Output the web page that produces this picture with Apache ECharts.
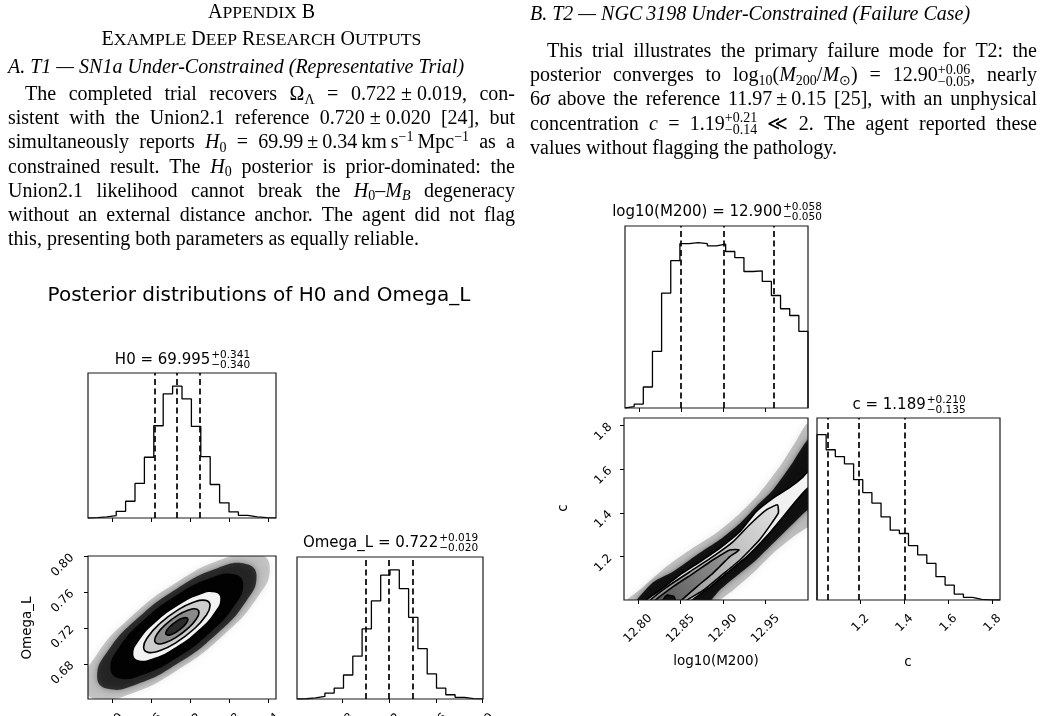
<!DOCTYPE html>
<html><head><meta charset="utf-8">
<script src="https://cdn.jsdelivr.net/npm/echarts@6/dist/echarts.min.js"></script>
<style>html,body{margin:0;padding:0;background:#fff}#main{width:1042px;height:716px}</style>
</head><body><div id="main"></div>
<script>
// ================= DATA =================
// Left figure: H0 / Omega_L
const h0Range = [68.631, 71.518];
const omRange = [0.641, 0.8005];
const h0Counts = [3, 8, 18, 51, 127, 262, 461, 700, 941, 1000, 903, 695, 466, 254, 115, 46, 20, 8, 3, 1];
const omCounts = [2, 8, 20, 46, 84, 186, 332, 543, 760, 959, 1000, 855, 633, 390, 194, 84, 33, 13, 3, 1];
const h0Quantiles = [69.655, 69.995, 70.336];
const omQuantiles = [0.702, 0.722, 0.741];
const h0Ticks = [69.0, 69.6, 70.2, 70.8, 71.4];
const h0TickLabels = ['69.0', '69.6', '70.2', '70.8', '71.4'];
const omTicks = [0.68, 0.72, 0.76, 0.80];
const omTickLabels = ['0.68', '0.72', '0.76', '0.80'];
// contour levels (0.5, 1, 1.5, 2 sigma) in (H0, Omega_L)
const lc20 = [[70.675,0.7532],[70.584,0.7607],[70.335,0.7579],[69.995,0.7454],[69.655,0.7267],[69.406,0.7067],[69.315,0.6908],[69.406,0.6833],[69.655,0.6861],[69.995,0.6986],[70.335,0.7173],[70.584,0.7373]];
const lc15 = [[70.505,0.7454],[70.437,0.7510],[70.250,0.7489],[69.995,0.7396],[69.740,0.7255],[69.553,0.7105],[69.485,0.6986],[69.553,0.6930],[69.740,0.6951],[69.995,0.7045],[70.250,0.7185],[70.437,0.7335]];
const lc10 = [[70.335,0.7376],[70.289,0.7414],[70.165,0.7399],[69.995,0.7337],[69.825,0.7243],[69.701,0.7143],[69.655,0.7064],[69.701,0.7026],[69.825,0.7041],[69.995,0.7103],[70.165,0.7197],[70.289,0.7297]];
const lc05 = [[70.165,0.7298],[70.142,0.7317],[70.080,0.7310],[69.995,0.7279],[69.910,0.7232],[69.848,0.7182],[69.825,0.7142],[69.848,0.7123],[69.910,0.7130],[69.995,0.7161],[70.080,0.7208],[70.142,0.7258]];
// sample cloud extents
const lCloud30 = [[71.015,0.7688],[70.878,0.7801],[70.505,0.7758],[69.995,0.7571],[69.485,0.7290],[69.112,0.6990],[68.975,0.6752],[69.112,0.6639],[69.485,0.6682],[69.995,0.6869],[70.505,0.7150],[70.878,0.7450]];
const lCloud36 = [[71.219,0.7782],[71.055,0.7917],[70.607,0.7866],[69.995,0.7641],[69.383,0.7304],[68.935,0.6944],[68.771,0.6658],[68.935,0.6523],[69.383,0.6574],[69.995,0.6799],[70.607,0.7136],[71.055,0.7496]];
const lCloud42 = [[71.423,0.7875],[71.232,0.8033],[70.709,0.7973],[69.995,0.7711],[69.281,0.7318],[68.758,0.6898],[68.567,0.6565],[68.758,0.6407],[69.281,0.6467],[69.995,0.6729],[70.709,0.7122],[71.232,0.7542]];

// Right figure: log10(M200) / c
const mRange = [12.7835, 13.0];
const cRange = [1.002, 1.834];
const mCounts = [8, 24, 127, 342, 694, 891, 994, 1000, 994, 980, 990, 946, 909, 825, 829, 765, 680, 600, 559, 463];
const cCounts = [1000, 908, 867, 823, 727, 649, 586, 502, 422, 402, 329, 273, 221, 141, 90, 36, 16, 4, 1, 0];
const mQuantiles = [12.850, 12.900, 12.958];
const cQuantiles = [1.054, 1.189, 1.399];
const mTicks = [12.80, 12.85, 12.90, 12.95];
const mTickLabels = ['12.80', '12.85', '12.90', '12.95'];
const cTicks = [1.2, 1.4, 1.6, 1.8];
const cTickLabels = ['1.2', '1.4', '1.6', '1.8'];
const rc20 = [[12.809,0.99],[12.809,1.0],[12.826,1.047],[12.849,1.116],[12.873,1.177],[12.896,1.238],[12.920,1.315],[12.939,1.406],[12.959,1.468],[12.979,1.518],[12.994,1.564],[13.0,1.59],[13.01,1.61],[13.01,1.50],[13.0,1.514],[12.987,1.460],[12.971,1.384],[12.951,1.292],[12.928,1.200],[12.904,1.124],[12.885,1.062],[12.863,1.0],[12.863,0.99]];
const rc15 = [[12.814,0.99],[12.814,1.0],[12.833,1.059],[12.861,1.131],[12.888,1.2],[12.912,1.269],[12.931,1.345],[12.951,1.414],[12.964,1.437],[12.965,1.399],[12.943,1.277],[12.920,1.185],[12.896,1.108],[12.877,1.047],[12.857,1.0],[12.857,0.99]];
const rc10 = [[12.820,0.99],[12.820,1.0],[12.841,1.062],[12.865,1.124],[12.888,1.185],[12.908,1.231],[12.919,1.231],[12.908,1.2],[12.888,1.124],[12.869,1.062],[12.851,1.0],[12.851,0.99]];
const rc05 = [[12.829,0.99],[12.829,1.0],[12.834,1.024],[12.842,1.018],[12.844,1.0],[12.844,0.99]];
const rCloudDense = [[12.798,0.99],[12.798,1.0],[12.818,1.084],[12.841,1.131],[12.869,1.208],[12.896,1.277],[12.920,1.353],[12.939,1.430],[12.959,1.506],[12.979,1.613],[12.994,1.705],[13.0,1.736],[13.01,1.75],[13.01,1.40],[13.0,1.414],[12.983,1.353],[12.959,1.261],[12.939,1.185],[12.920,1.124],[12.896,1.047],[12.886,1.0],[12.886,0.99]];
const rCloudSparse = [[12.786,0.99],[12.786,1.0],[12.806,1.062],[12.833,1.154],[12.861,1.231],[12.892,1.308],[12.920,1.399],[12.943,1.491],[12.967,1.613],[12.987,1.736],[12.998,1.805],[13.01,1.83],[13.01,1.33],[13.002,1.338],[12.983,1.292],[12.959,1.216],[12.935,1.124],[12.912,1.047],[12.896,1.0],[12.896,0.99]];

// Text content
const leftHead = ['{r|A}{sc|PPENDIX} {r|B}', '{r|E}{sc|XAMPLE} {r|D}{sc|EEP} {r|R}{sc|ESEARCH} {r|O}{sc|UTPUTS}'];
const leftSub = 'A. T1 — SN1a Under-Constrained (Representative Trial)';
const leftPara = [
  'The completed trial recovers Ω{sub|Λ} = 0.722~±~0.019, con-',
  'sistent with the Union2.1 reference 0.720~±~0.020 [24], but',
  'simultaneously reports {i|H}{sub|0} = 69.99\u2009±\u20090.34\u2009km\u2009s{sup|−1}\u2009Mpc{sup|−1} as a',
  'constrained result. The {i|H}{sub|0} posterior is prior-dominated: the',
  'Union2.1 likelihood cannot break the {i|H}{sub|0}–{i|M}{isub|B} degeneracy',
  'without an external distance anchor. The agent did not flag',
  'this, presenting both parameters as equally reliable.'
];
const rightSub = 'B. T2 — NGC\u20093198 Under-Constrained (Failure Case)';
const rightPara = [
  'This trial illustrates the primary failure mode for T2: the',
  'posterior converges to log{sub|10}({i|M}{sub|200}/{i|M}{sub|⊙}) = 12.90{ss|+0.06/−0.05}, nearly',
  '6{i|σ} above the reference 11.97\u2009±\u20090.15 [25], with an unphysical',
  'concentration {i|c} = 1.19{ss|+0.21/−0.14} ≪ 2. The agent reported these',
  'values without flagging the pathology.'
];
const figTitle = 'Posterior distributions of H0 and Omega_L';
const panelTitles = [
  ['H0 = 69.995', '+0.341', '−0.340'],
  ['Omega_L = 0.722', '+0.019', '−0.020'],
  ['log10(M200) = 12.900', '+0.058', '−0.050'],
  ['c = 1.189', '+0.210', '−0.135']
];
const axisNames = ['Omega_L', 'c', 'log10(M200)', 'c'];

// ================= LAYOUT / STYLE =================
const GRIDS = [
  [88, 373, 188, 145],   // H0 hist
  [88, 556, 188, 143],   // H0 vs Omega_L
  [297, 557, 186, 142],  // Omega_L hist
  [625, 226, 183, 182],  // M200 hist
  [624, 418, 184, 182],  // M200 vs c
  [817, 418, 183, 182]   // c hist
];
const SERIF = '"Liberation Serif","Times New Roman",serif';
const SANS = '"DejaVu Sans",sans-serif';
const BODY = 20;
const SC_X = 1.1;
const G = [];
const mctx = document.createElement('canvas').getContext('2d');
function measure(t, f) { mctx.font = f; return mctx.measureText(t).width; }
function mfont(st, fs) {
  const it = (st === 'i' || st === 'isub' || st === 'h') ? 'italic ' : '';
  let s = fs;
  if (st === 'sub' || st === 'isub' || st === 'sup' || st === 'ss') s = fs * 0.7;
  if (st === 'sc') s = fs * 0.8;
  return it + s.toFixed(2) + 'px ' + SERIF;
}
function txt(t, x, y, font, extra) {
  return Object.assign({ type: 'text', x: x, y: y, silent: true, z: 100,
    style: { text: t, font: font, fill: '#000', textAlign: 'left', textVerticalAlign: 'middle', align: 'left', verticalAlign: 'middle' } }, extra || {});
}
function parseWord(w, base) {
  const segs = []; const re = /\{(\w+)\|([^}]*)\}|([^{]+)/g; let m;
  while ((m = re.exec(w))) {
    if (m[1]) segs.push({ s: m[1], t: m[2].replace(/~/g, ' ') });
    else segs.push({ s: base, t: m[3].replace(/~/g, ' ') });
  }
  return segs;
}
function segW(seg, fs) {
  const f = mfont(seg.s, fs);
  if (seg.s === 'ss') { const p = seg.t.split('/'); return Math.max(measure(p[0], f), measure(p[1], f)); }
  if (seg.s === 'sc') return measure(seg.t, f) * SC_X;
  return measure(seg.t, f);
}
function segDraw(seg, x, y, fs) {
  const f = mfont(seg.s, fs);
  if (seg.s === 'ss') { const p = seg.t.split('/'); G.push(txt(p[0], x, y - fs * 0.3, f)); G.push(txt(p[1], x, y + fs * 0.3, f)); return; }
  let dy = 0;
  if (seg.s === 'sub' || seg.s === 'isub') dy = fs * 0.25;
  if (seg.s === 'sup') dy = -fs * 0.3;
  if (seg.s === 'sc') dy = fs * 0.06;
  const e = txt(seg.t, x, y + dy, f);
  if (seg.s === 'sc') { e.scaleX = SC_X; }
  G.push(e);
}
function layoutLine(str, x0, x1, y, mode, base) {
  const words = str.split(' ').map(w => parseWord(w, base));
  const widths = words.map(ws => ws.reduce((a, s) => a + segW(s, BODY), 0));
  const total = widths.reduce((a, b) => a + b, 0);
  const sp = measure(' ', mfont(base, BODY));
  let gap = sp, x = x0;
  if (mode === 'justify' && words.length > 1) gap = (x1 - x0 - total) / (words.length - 1);
  if (mode === 'center') x = (x0 + x1) / 2 - (total + sp * (words.length - 1)) / 2;
  words.forEach(ws => { ws.forEach(s => { segDraw(s, x, y, BODY); x += segW(s, BODY); }); x += gap; });
}
// Columns
const LX0 = 8, LX1 = 515, RX0 = 530, RX1 = 1037, INDENT = 17, PITCH = 24.1;
layoutLine(leftHead[0], LX0, LX1, 13, 'center', 'r');
layoutLine(leftHead[1], LX0, LX1, 40, 'center', 'r');
layoutLine(leftSub, LX0, LX1, 68, 'left', 'h');
leftPara.forEach((l, i) => layoutLine(l, LX0 + (i === 0 ? INDENT : 0), LX1, 95 + PITCH * i, i === leftPara.length - 1 ? 'left' : 'justify', 'r'));
layoutLine(rightSub, RX0, RX1, 15, 'left', 'h');
rightPara.forEach((l, i) => layoutLine(l, RX0 + (i === 0 ? INDENT : 0), RX1, 52 + PITCH * i, i === rightPara.length - 1 ? 'left' : 'justify', 'r'));

// Figure title & panel titles
G.push({ type: 'text', x: 259, y: 296, silent: true, z: 100,
  style: { text: figTitle, font: '20px ' + SANS, fill: '#000', textAlign: 'center', textVerticalAlign: 'middle', align: 'center', verticalAlign: 'middle' } });
const titlePos = [[0, 13], [2, 14], [3, 14], [5, 13]];
panelTitles.forEach((pt, i) => {
  const g = GRIDS[titlePos[i][0]];
  const cx = g[0] + g[2] / 2, y = g[1] - titlePos[i][1];
  const fm = '15px ' + SANS, fs2 = '10.5px ' + SANS;
  const wm = measure(pt[0], fm), ws = Math.max(measure(pt[1], fs2), measure(pt[2], fs2));
  const x = cx - (wm + ws) / 2;
  G.push(txt(pt[0], x, y, fm));
  G.push(txt(pt[1], x + wm + 1, y - 5, fs2));
  G.push(txt(pt[2], x + wm + 1, y + 5.5, fs2));
});
function axisName(t, x, y, rot) {
  G.push({ type: 'text', x: x, y: y, rotation: rot, silent: true, z: 100,
    style: { text: t, font: '13.5px ' + SANS, fill: '#000', textAlign: 'center', textVerticalAlign: 'middle', align: 'center', verticalAlign: 'middle' } });
}
axisName(axisNames[0], 27, 628, Math.PI / 2);
axisName(axisNames[1], 563, 508, Math.PI / 2);
axisName(axisNames[2], 716, 661, 0);
axisName(axisNames[3], 908, 662, 0);

// ================= CHART =================
function stepData(rng, counts) {
  const n = counts.length, w = (rng[1] - rng[0]) / n;
  const pts = [[rng[0], 0]];
  counts.forEach((c, i) => { const a = rng[0] + i * w; pts.push([a, c], [a + w, c]); });
  pts.push([rng[1], 0]);
  return pts;
}
const TICK_FS = 12;
const TICK_FONT = TICK_FS + 'px ' + SANS;
function halfDiag(label) { return (measure(label, TICK_FONT) + TICK_FS * 1.15) * Math.SQRT1_2 / 2; }
function tickLabel(ticks, labels, show, pad) {
  const half = Math.max.apply(null, labels.map(halfDiag));
  return { show: show, customValues: ticks, rotate: 45, align: 'center', verticalAlign: 'middle', margin: pad + half,
    fontSize: TICK_FS, fontFamily: 'DejaVu Sans', color: '#000',
    formatter: v => { const i = ticks.findIndex(t => Math.abs(t - v) < 1e-9); return i >= 0 ? labels[i] : ''; } };
}
function valAx(gi, rng, ticks, labels, showLabels, pad) {
  return { type: 'value', gridIndex: gi, min: rng[0], max: rng[1], splitLine: { show: false },
    axisLine: { show: false },
    axisTick: { show: true, length: 4, lineStyle: { color: '#000', width: 1 }, customValues: ticks },
    axisLabel: tickLabel(ticks, labels, showLabels, pad) };
}
function yHist(gi, counts) {
  return { type: 'value', gridIndex: gi, min: 0, max: 1.1 * Math.max.apply(null, counts), show: false, splitLine: { show: false } };
}
function histSeries(idx, rng, counts, quant) {
  return { type: 'line', xAxisIndex: idx, yAxisIndex: idx, data: stepData(rng, counts), symbol: 'none', showSymbol: false,
    animation: false, silent: true, z: 3, lineStyle: { color: '#000', width: 1.3 },
    markLine: { silent: true, symbol: ['none', 'none'], animation: false, label: { show: false },
      lineStyle: { color: '#000', width: 1.7, type: [6, 3.5] }, data: quant.map(q => ({ xAxis: q })) } };
}
function polySeries(idx, layers, z) {
  return { type: 'custom', xAxisIndex: idx, yAxisIndex: idx, clip: true, z: z, animation: false, silent: true,
    data: layers.map((l, i) => [i]),
    renderItem: (params, api) => {
      const L = layers[params.dataIndex];
      return { type: 'polygon', shape: { points: L.pts.map(p => api.coord(p)), smooth: L.smooth }, style: L.style };
    } };
}
const stroke = { fill: 'none', stroke: '#000', lineWidth: 1.6 };
const grad = (a, b) => new echarts.graphic.LinearGradient(0, 1, 1, 0, [{ offset: 0, color: a }, { offset: 1, color: b }]);
const leftFill = [
  { pts: lCloud42, smooth: 0.5, style: { fill: 'rgba(0,0,0,0.2)', shadowBlur: 10, shadowColor: 'rgba(0,0,0,0.35)' } },
  { pts: lCloud36, smooth: 0.5, style: { fill: 'rgba(0,0,0,0.7)', shadowBlur: 6, shadowColor: 'rgba(0,0,0,0.5)' } },
  { pts: lCloud30, smooth: 0.5, style: { fill: 'rgba(0,0,0,0.92)' } },
  { pts: lc20, smooth: 0.5, style: { fill: '#f3f3f3' } },
  { pts: lc15, smooth: 0.5, style: { fill: '#cdcdcd' } },
  { pts: lc10, smooth: 0.4, style: { fill: '#8a8a8a' } },
  { pts: lc05, smooth: 0.3, style: { fill: '#2a2a2a' } }
];
const leftLines = [lc20, lc15, lc10, lc05].map(p => ({ pts: p, smooth: 0.5, style: stroke }));
const rightFill = [
  { pts: rCloudSparse, smooth: 0.2, style: { fill: 'rgba(0,0,0,0.22)', shadowBlur: 10, shadowColor: 'rgba(0,0,0,0.35)' } },
  { pts: rCloudDense, smooth: 0.2, style: { fill: 'rgba(0,0,0,0.85)', shadowBlur: 5, shadowColor: 'rgba(0,0,0,0.5)' } },
  { pts: rc20, smooth: 0.15, style: { fill: grad('#dcdcdc', '#f6f6f6') } },
  { pts: rc15, smooth: 0.15, style: { fill: grad('#8c8c8c', '#e2e2e2') } },
  { pts: rc10, smooth: 0.1, style: { fill: grad('#555', '#a0a0a0') } },
  { pts: rc05, smooth: 0.1, style: { fill: '#111' } }
];
const rightLines = [rc20, rc15, rc10, rc05].map(p => ({ pts: p, smooth: 0.15, style: stroke }));

const XPAD = 11.5;
const option = {
  animation: false,
  backgroundColor: '#fff',
  grid: GRIDS.map(g => ({ left: g[0], top: g[1], width: g[2], height: g[3], show: true, borderColor: '#1a1a1a', borderWidth: 1.2,
    backgroundColor: 'rgba(0,0,0,0)', z: 5, containLabel: false, outerBoundsMode: 'none' })),
  xAxis: [
    valAx(0, h0Range, h0Ticks, h0TickLabels, false, XPAD),
    valAx(1, h0Range, h0Ticks, h0TickLabels, true, XPAD),
    valAx(2, omRange, omTicks, omTickLabels, true, XPAD),
    valAx(3, mRange, mTicks, mTickLabels, false, XPAD),
    valAx(4, mRange, mTicks, mTickLabels, true, XPAD),
    valAx(5, cRange, cTicks, cTickLabels, true, XPAD)
  ],
  yAxis: [
    yHist(0, h0Counts),
    valAx(1, omRange, omTicks, omTickLabels, false, 0),
    yHist(2, omCounts),
    yHist(3, mCounts),
    valAx(4, cRange, cTicks, cTickLabels, false, 0),
    yHist(5, cCounts)
  ],
  series: [
    histSeries(0, h0Range, h0Counts, h0Quantiles),
    histSeries(2, omRange, omCounts, omQuantiles),
    histSeries(3, mRange, mCounts, mQuantiles),
    histSeries(5, cRange, cCounts, cQuantiles),
    polySeries(1, leftFill, 2),
    polySeries(1, leftLines, 3),
    polySeries(4, rightFill, 2),
    polySeries(4, rightLines, 3)
  ],
  graphic: G
};
const chart = echarts.init(document.getElementById('main'), null, { renderer: 'canvas' });
chart.setOption(option);

// y tick labels (matplotlib-style rotated, right-aligned bbox, slightly below tick), placed through the axis scale
const yLabelSpecs = [
  { axis: 1, ticks: omTicks, labels: omTickLabels, pad: 11, dy: 9 },
  { axis: 4, ticks: cTicks, labels: cTickLabels, pad: 9, dy: 6.5 }
];
yLabelSpecs.forEach(s => {
  const left = chart.convertToPixel({ xAxisIndex: s.axis }, s.axis === 1 ? h0Range[0] : mRange[0]);
  s.ticks.forEach((t, i) => {
    const py = chart.convertToPixel({ yAxisIndex: s.axis }, t);
    const half = halfDiag(s.labels[i]);
    G.push({ type: 'text', x: left - s.pad - half, y: py + s.dy, rotation: Math.PI / 4, silent: true, z: 100,
      style: { text: s.labels[i], font: TICK_FONT, fill: '#000', textAlign: 'center', textVerticalAlign: 'middle', align: 'center', verticalAlign: 'middle' } });
  });
});
chart.setOption({ graphic: G });
</script></body></html>
